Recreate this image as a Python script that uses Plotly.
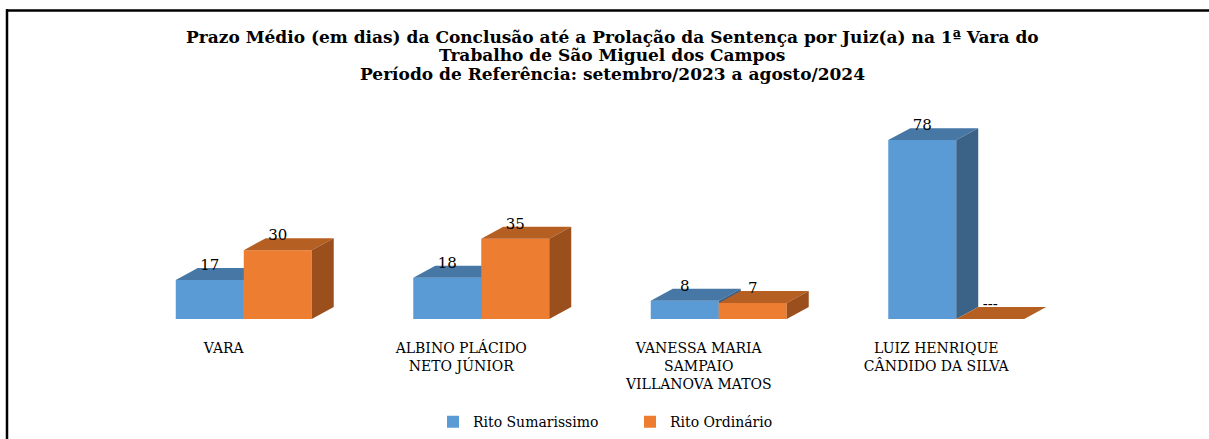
import plotly.graph_objects as go

# ---- data ----
categories = ["VARA", "ALBINO PLÁCIDO<br>NETO JÚNIOR", "VANESSA MARIA<br>SAMPAIO<br>VILLANOVA MATOS",
              "LUIZ HENRIQUE<br>CÂNDIDO DA SILVA"]
series_names = ["Rito Sumarissimo", "Rito Ordinário"]
rito_sumarissimo = [17, 18, 8, 78]
rito_ordinario = [30, 35, 7, None]   # None -> "---"

title_lines = [
    "Prazo Médio (em dias) da Conclusão até a Prolação da Sentença por Juiz(a) na 1ª Vara do",
    "Trabalho de São Miguel dos Campos",
    "Período de Referência: setembro/2023 a agosto/2024",
]

# ---- style ----
W, H = 1209, 439
ML, MR, MT, MB = 125, 134, 124, 119.5
YMAX = 85
BAR_W = 0.2863          # bar width in category units
DX = 0.0926             # 3D depth in x units
DY = 5.2                # 3D depth in y units
SERIF = "DejaVu Serif"
colors = {
    "Rito Sumarissimo": dict(front="#5B9BD5", top="#4677A5", side="#3B6388"),
    "Rito Ordinário": dict(front="#ED7D31", top="#B65F23", side="#9A4F1D"),
}

idx = list(range(len(categories)))


def py_to_paper(py):
    return (H - MB - py) / (H - MT - MB)


def px_to_paper(px):
    return (px - ML) / (W - ML - MR)


def faces(vals, offset):
    tx, ty, sx, sy = [], [], [], []
    for i, v in zip(idx, vals):
        h = v if v is not None else 0
        x0 = i + offset
        x1 = x0 + BAR_W
        tx += [x0, x1, x1 + DX, x0 + DX, x0, None]
        ty += [h, h, h + DY, h + DY, h, None]
        if h > 0:
            sx += [x1, x1, x1 + DX, x1 + DX, x1, None]
            sy += [0, h, h + DY, DY, 0, None]
    return tx, ty, sx, sy


fig = go.Figure()
series = [(series_names[0], rito_sumarissimo, -BAR_W, "x", "y"),
          (series_names[1], rito_ordinario, 0.0, "x2", "y2")]

for name, vals, off, xa, ya in series:
    c = colors[name]
    fig.add_trace(go.Bar(
        x=idx, y=[v if v is not None else 0 for v in vals], width=BAR_W, offset=off,
        name=name, marker=dict(color=c["front"], line=dict(width=0)),
        xaxis=xa, yaxis=ya, hoverinfo="skip"))
    tx, ty, sx, sy = faces(vals, off)
    fig.add_trace(go.Scatter(x=tx, y=ty, fill="toself", fillcolor=c["top"], mode="lines",
                             line=dict(width=0, color=c["top"]), showlegend=False,
                             hoverinfo="skip", xaxis=xa, yaxis=ya))
    fig.add_trace(go.Scatter(x=sx, y=sy, fill="toself", fillcolor=c["side"], mode="lines",
                             line=dict(width=0, color=c["side"]), showlegend=False,
                             hoverinfo="skip", xaxis=xa, yaxis=ya))

# value labels
for name, vals, off, xa, ya in series:
    fig.add_trace(go.Scatter(
        x=[i + off + BAR_W / 2 for i in idx],
        y=[(v if v is not None else 0) + DY / 2 for v in vals],
        text=[str(v) if v is not None else "---" for v in vals],
        mode="text", textposition="top center",
        textfont=dict(family=SERIF, size=15, color="black"),
        showlegend=False, hoverinfo="skip", cliponaxis=False, xaxis="x2", yaxis="y2"))

annotations = []
for line, pyc in zip(title_lines, [37, 55, 74]):
    annotations.append(dict(
        text="<b>" + line + "</b>", x=px_to_paper(612), y=py_to_paper(pyc),
        xref="paper", yref="paper", xanchor="center", yanchor="middle", showarrow=False,
        font=dict(family=SERIF, size=17, color="black")))

shapes = [
    dict(type="line", xref="paper", yref="paper", x0=px_to_paper(6), x1=px_to_paper(1215),
         y0=py_to_paper(10.3), y1=py_to_paper(10.3), line=dict(color="black", width=2.5)),
    dict(type="line", xref="paper", yref="paper", x0=px_to_paper(7), x1=px_to_paper(7),
         y0=py_to_paper(9), y1=py_to_paper(450), line=dict(color="black", width=2.5)),
]

fig.update_layout(
    width=W, height=H,
    margin=dict(l=ML, r=MR, t=MT, b=MB, pad=0, autoexpand=False),
    paper_bgcolor="white", plot_bgcolor="white",
    barmode="overlay",
    showlegend=True,
    legend=dict(orientation="h", x=px_to_paper(630), xanchor="center",
                y=py_to_paper(423), yanchor="middle",
                font=dict(family=SERIF, size=14, color="black"),
                itemwidth=30, entrywidth=152, traceorder="normal"),
    xaxis=dict(range=[-0.5, 3.5], tickvals=idx, ticktext=categories,
               showgrid=False, zeroline=False, showline=False, automargin=False,
               ticks="outside", ticklen=16, tickcolor="rgba(0,0,0,0)",
               ticklabelshift=-20,
               tickfont=dict(family=SERIF, size=14, color="black")),
    yaxis=dict(range=[0, YMAX], visible=False),
    xaxis2=dict(range=[-0.5, 3.5], overlaying="x", anchor="y2", visible=False),
    yaxis2=dict(range=[0, YMAX], overlaying="y", anchor="x2", visible=False),
    annotations=annotations,
    shapes=shapes,
)

fig.write_html("out.html", config={"displayModeBar": False},
               post_script="document.body.style.margin='0';")
